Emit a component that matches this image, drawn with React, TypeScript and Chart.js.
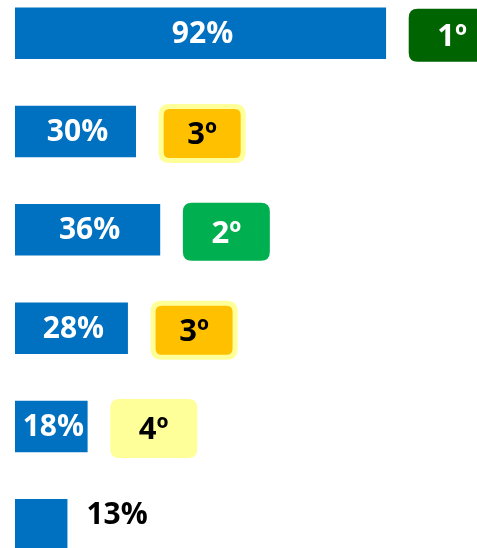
import React, { useEffect, useRef } from "react";
import { Chart, registerables } from "chart.js";

Chart.register(...registerables);

const categories = ["Item 1", "Item 2", "Item 3", "Item 4", "Item 5", "Item 6"];
const values = [92, 30, 36, 28, 18, 13];
const valueLabels = ["92%", "30%", "36%", "28%", "18%", "13%"];
const ranks = ["1º", "3º", "2º", "3º", "4º", ""];
const rankNumbers = [1, 3, 2, 3, 4, 0];

const BAR_COLOR = "#0070C0";
const FONT = "'Open Sans', 'Noto Sans', sans-serif";
const BADGE_OFFSET = 16.4; // badge centre sits this many axis units right of bar end
const INSIDE_MIN = 15;

const rankStyle: Record<number, { fill: string; border?: string; text: string; h: number }> = {
  1: { fill: "#006400", text: "#FFFFFF", h: 53 },
  2: { fill: "#00B050", text: "#FFFFFF", h: 58 },
  3: { fill: "#FFC000", border: "#FFFF99", text: "#000000", h: 59 },
  4: { fill: "#FFFF99", text: "#000000", h: 59 },
};

function roundRect(ctx: CanvasRenderingContext2D, x: number, y: number, w: number, h: number, r: number) {
  ctx.beginPath();
  ctx.moveTo(x + r, y);
  ctx.lineTo(x + w - r, y);
  ctx.quadraticCurveTo(x + w, y, x + w, y + r);
  ctx.lineTo(x + w, y + h - r);
  ctx.quadraticCurveTo(x + w, y + h, x + w - r, y + h);
  ctx.lineTo(x + r, y + h);
  ctx.quadraticCurveTo(x, y + h, x, y + h - r);
  ctx.lineTo(x, y + r);
  ctx.quadraticCurveTo(x, y, x + r, y);
  ctx.closePath();
}

const labelPlugin = {
  id: "labelsAndBadges",
  afterDatasetsDraw(chart: any) {
    const ctx: CanvasRenderingContext2D = chart.ctx;
    const meta = chart.getDatasetMeta(0);
    const xs = chart.scales.x;
    ctx.save();
    meta.data.forEach((bar: any, i: number) => {
      const v = values[i];
      const cy = bar.y;
      ctx.font = `bold 30px ${FONT}`;
      ctx.textBaseline = "middle";
      if (v >= INSIDE_MIN) {
        ctx.fillStyle = "#FFFFFF";
        ctx.textAlign = "center";
        ctx.fillText(valueLabels[i], (bar.x + bar.base) / 2 + 2, cy + 1);
      } else {
        ctx.fillStyle = "#000000";
        ctx.textAlign = "left";
        ctx.fillText(valueLabels[i], bar.x + 19, cy - 9);
      }
      const rk = rankNumbers[i];
      if (!rk) return;
      const st = rankStyle[rk];
      const bx = xs.getPixelForValue(v + BADGE_OFFSET);
      const w = 87;
      const h = st.h;
      const left = bx - w / 2;
      const top = cy - h / 2 + 2;
      if (st.border) {
        ctx.fillStyle = st.border;
        roundRect(ctx, left, top, w, h, 11);
        ctx.fill();
        ctx.fillStyle = st.fill;
        roundRect(ctx, left + 5, top + 5, w - 10, h - 10, 6);
        ctx.fill();
      } else {
        ctx.fillStyle = st.fill;
        roundRect(ctx, left, top, w, h, 9);
        ctx.fill();
      }
      ctx.fillStyle = st.text;
      ctx.textAlign = "center";
      ctx.font = `bold 31px ${FONT}`;
      ctx.fillText(ranks[i], bx, top + h / 2 + 2);
    });
    ctx.restore();
  },
};

export default function App() {
  const ref = useRef<HTMLCanvasElement | null>(null);
  useEffect(() => {
    if (!ref.current) return;
    const chart = new Chart(ref.current, {
      type: "bar",
      data: {
        labels: categories,
        datasets: [
          {
            data: values,
            backgroundColor: BAR_COLOR,
            borderWidth: 0,
            barPercentage: 0.524,
            categoryPercentage: 1,
          },
        ],
      },
      options: {
        indexAxis: "y",
        responsive: false,
        animation: false,
        devicePixelRatio: 1,
        layout: { padding: { left: 15, right: 21, top: 0, bottom: 0 } },
        plugins: { legend: { display: false }, tooltip: { enabled: false } },
        scales: {
          x: { min: 0, max: 120, display: false },
          y: { display: false, offset: true },
        },
      },
      plugins: [labelPlugin],
    });
    return () => chart.destroy();
  }, []);
  return (
    <div style={{ position: "fixed", left: 0, top: 0, width: 477, height: 548, overflow: "hidden", background: "#fff" }}>
      <div style={{ position: "absolute", left: 0, top: -16, width: 520, height: 590 }}>
        <canvas ref={ref} width={520} height={590} style={{ display: "block" }} />
      </div>
    </div>
  );
}
